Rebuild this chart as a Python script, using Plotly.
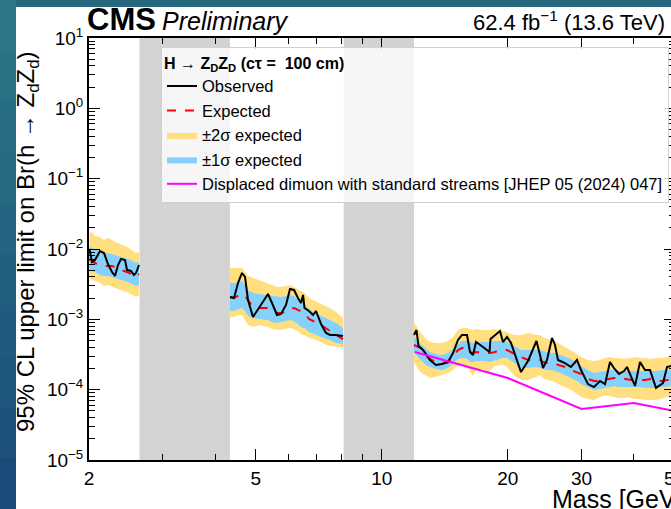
import plotly.graph_objects as go
import math

# ---------------- data ----------------
# segment 1 (2.0 - 2.63 GeV)
mass_a = [2.005, 2.033, 2.067, 2.125, 2.172, 2.220, 2.270, 2.307, 2.346, 2.385, 2.438, 2.465, 2.519, 2.561, 2.590, 2.633]
obs_a = [0.0100, 0.00653, 0.00698, 0.00937, 0.00877, 0.00612, 0.00471, 0.00413, 0.00592, 0.00721, 0.00698, 0.00503, 0.00487, 0.00427, 0.00456, 0.00592]
exp_a = [0.00721, 0.00675, 0.00632, 0.00592, 0.00573, 0.00573, 0.00573, 0.00555, 0.00519, 0.00503, 0.00487, 0.00471, 0.00441, 0.00413, 0.00400, 0.00441]
s1hi_a = [0.01068, 0.01033, 0.00968, 0.00905, 0.00877, 0.00877, 0.00849, 0.00822, 0.00795, 0.00769, 0.00745, 0.00721, 0.00698, 0.00653, 0.00632, 0.00653]
s1lo_a = [0.00503, 0.00487, 0.00471, 0.00427, 0.00413, 0.00413, 0.00400, 0.00387, 0.00374, 0.00362, 0.00351, 0.00340, 0.00318, 0.00308, 0.00298, 0.00308]
s2hi_a = [0.01689, 0.01745, 0.01531, 0.01482, 0.01343, 0.01434, 0.01343, 0.01258, 0.01217, 0.01178, 0.01104, 0.01068, 0.00968, 0.00905, 0.00877, 0.00905]
s2lo_a = [0.00387, 0.00362, 0.00351, 0.00329, 0.00298, 0.00308, 0.00288, 0.00279, 0.00270, 0.00261, 0.00245, 0.00245, 0.00229, 0.00215, 0.00208, 0.00222]

# segment 2 (4.34 - 8.1 GeV)
mass_b = [4.342, 4.439, 4.538, 4.639, 4.716, 4.794, 4.928, 5.093, 5.351, 5.470, 5.623, 5.748, 5.908, 6.039, 6.174, 6.311, 6.416, 6.487, 6.541, 6.704, 6.853, 6.967, 7.162, 7.361, 7.525, 7.777, 8.083]
obs_b = [0.002078, 0.002011, 0.003287, 0.004560, 0.004000, 0.001884, 0.001080, 0.001450, 0.002293, 0.001708, 0.001153, 0.001191, 0.001600, 0.002700, 0.002614, 0.002011, 0.001708, 0.002219, 0.001450, 0.001314, 0.001153, 0.001314, 0.000859, 0.000640, 0.000599, 0.000599, 0.000580]
exp_b = [0.002078, 0.002011, 0.002148, 0.002293, 0.002148, 0.001884, 0.001498, 0.001450, 0.001450, 0.001358, 0.001231, 0.001231, 0.001272, 0.001404, 0.001450, 0.001358, 0.001314, 0.001272, 0.001231, 0.001011, 0.000947, 0.000917, 0.000831, 0.000753, 0.000683, 0.000599, 0.000525]
s1hi_b = [0.003287, 0.003287, 0.003396, 0.003509, 0.003079, 0.002614, 0.002369, 0.002293, 0.002219, 0.002148, 0.002078, 0.002078, 0.002148, 0.002219, 0.002148, 0.001947, 0.001765, 0.001708, 0.001653, 0.001404, 0.001272, 0.001231, 0.001116, 0.001045, 0.000979, 0.000887, 0.000753]
s1lo_b = [0.001314, 0.001314, 0.001404, 0.001450, 0.001314, 0.001116, 0.001045, 0.001011, 0.000979, 0.000917, 0.000887, 0.000917, 0.000947, 0.000979, 0.000947, 0.000859, 0.000778, 0.000753, 0.000753, 0.000661, 0.000619, 0.000599, 0.000561, 0.000525, 0.000509, 0.000461, 0.000446]
s2hi_b = [0.005370, 0.005370, 0.005370, 0.005370, 0.004712, 0.004133, 0.003872, 0.003626, 0.003287, 0.003079, 0.002884, 0.002884, 0.002980, 0.003079, 0.002884, 0.002700, 0.002529, 0.002448, 0.002369, 0.002011, 0.001884, 0.001765, 0.001653, 0.001548, 0.001450, 0.001272, 0.001045]
s2lo_b = [0.001080, 0.001080, 0.001153, 0.001153, 0.000979, 0.000831, 0.000778, 0.000831, 0.000778, 0.000729, 0.000705, 0.000705, 0.000729, 0.000753, 0.000729, 0.000683, 0.000619, 0.000599, 0.000599, 0.000543, 0.000525, 0.000509, 0.000476, 0.000432, 0.000418, 0.000404, 0.000391]

# segment 3 (11.9 - 50 GeV)
mass_c = [11.94, 12.107, 12.241, 12.547, 12.755, 13.039, 13.477, 13.929, 14.396, 14.798,
          15.210, 15.548, 15.982, 16.247, 16.518, 16.793, 17.451, 18.085, 18.185, 18.640,
          19.160, 19.479, 19.912, 20.356, 20.922, 21.506, 22.350, 23.416, 23.872, 24.270,
          24.810, 25.500, 25.924, 26.356, 27.390, 28.310, 29.260, 29.910, 31.084, 32.126,
          33.204, 34.130, 35.080, 35.860, 36.860, 37.888, 38.518, 39.374, 40.250, 41.372,
          42.524, 43.710, 45.176, 46.952, 47.996, 49.062, 50.5]
obs_c = [0.000599, 0.000705, 0.000418, 0.000366, 0.000321, 0.000264, 0.000224, 0.000232, 0.000247, 0.000332,
         0.000509, 0.000599, 0.000599, 0.000343, 0.000311, 0.000476, 0.000404, 0.000343, 0.000525, 0.000599,
         0.000683, 0.000476, 0.000561, 0.000461, 0.000282, 0.000178, 0.000256, 0.000492, 0.000311, 0.000203,
         0.000264, 0.000543, 0.000432, 0.000264, 0.000239, 0.000210, 0.000264, 0.000190, 0.000120, 0.000109,
         0.000133, 0.000120, 0.000247, 0.000203, 0.000167, 0.000184, 0.000210, 0.000151, 0.000113, 0.000247,
         0.000190, 0.000190, 0.000106, 0.000124, 0.000210, 0.000217, 0.000217]
exp_c = [0.000432, 0.000418, 0.000404, 0.000379, 0.000301, 0.000273, 0.000247, 0.000239, 0.000247, 0.000301,
         0.000366, 0.000391, 0.000391, 0.000343, 0.000332, 0.000343, 0.000332, 0.000332, 0.000332, 0.000343,
         0.000366, 0.000366, 0.000366, 0.000343, 0.000311, 0.000291, 0.000264, 0.000264, 0.000264, 0.000247,
         0.000239, 0.000232, 0.000232, 0.000224, 0.000210, 0.000190, 0.000178, 0.000167, 0.000142, 0.000133,
         0.000133, 0.000137, 0.000142, 0.000147, 0.000147, 0.000142, 0.000142, 0.000137, 0.000137, 0.000137,
         0.000137, 0.000142, 0.000133, 0.000133, 0.000137, 0.000137, 0.000137]
s1hi_c = [0.000561, 0.000525, 0.000476, 0.000418, 0.000379, 0.000343, 0.000321, 0.000311, 0.000332, 0.000379,
          0.000446, 0.000492, 0.000492, 0.000476, 0.000461, 0.000476, 0.000476, 0.000476, 0.000476, 0.000492,
          0.000492, 0.000492, 0.000476, 0.000446, 0.000404, 0.000366, 0.000366, 0.000366, 0.000366, 0.000355,
          0.000343, 0.000332, 0.000332, 0.000321, 0.000291, 0.000273, 0.000239, 0.000217, 0.000190, 0.000173,
          0.000178, 0.000184, 0.000190, 0.000190, 0.000184, 0.000184, 0.000184, 0.000184, 0.000184, 0.000184,
          0.000184, 0.000184, 0.000184, 0.000190, 0.000190, 0.000190, 0.000190]
s1lo_c = [0.000332, 0.000311, 0.000282, 0.000247, 0.000224, 0.000210, 0.000197, 0.000190, 0.000203, 0.000232,
          0.000273, 0.000282, 0.000273, 0.000247, 0.000247, 0.000256, 0.000256, 0.000247, 0.000247, 0.000256,
          0.000273, 0.000282, 0.000282, 0.000256, 0.000232, 0.000203, 0.000203, 0.000210, 0.000203, 0.000197,
          0.000190, 0.000190, 0.000184, 0.000178, 0.000162, 0.000147, 0.000133, 0.000120, 0.000109, 0.0000989,
          0.000102, 0.000106, 0.000109, 0.000113, 0.000109, 0.000109, 0.000109, 0.000109, 0.000109, 0.000109,
          0.000106, 0.000106, 0.000106, 0.000109, 0.000109, 0.000113, 0.000113]
s2hi_c = [0.000887, 0.000804, 0.000705, 0.000580, 0.000525, 0.000476, 0.000461, 0.000461, 0.000492, 0.000561,
          0.000705, 0.000753, 0.000753, 0.000729, 0.000705, 0.000729, 0.000705, 0.000705, 0.000705, 0.000729,
          0.000705, 0.000683, 0.000661, 0.000619, 0.000599, 0.000599, 0.000640, 0.000599, 0.000599, 0.000561,
          0.000525, 0.000509, 0.000492, 0.000461, 0.000404, 0.000366, 0.000321, 0.000291, 0.000264, 0.000256,
          0.000264, 0.000282, 0.000291, 0.000282, 0.000282, 0.000273, 0.000282, 0.000282, 0.000291, 0.000282,
          0.000282, 0.000273, 0.000282, 0.000282, 0.000291, 0.000282, 0.000282]
s2lo_c = [0.000239, 0.000217, 0.000190, 0.000167, 0.000157, 0.000147, 0.000151, 0.000162, 0.000173, 0.000190,
          0.000224, 0.000224, 0.000217, 0.000178, 0.000157, 0.000190, 0.000197, 0.000178, 0.000190, 0.000217,
          0.000224, 0.000224, 0.000210, 0.000178, 0.000151, 0.000137, 0.000137, 0.000151, 0.000162, 0.000147,
          0.000137, 0.000133, 0.000129, 0.000120, 0.000109, 0.0000989, 0.0000868, 0.0000787, 0.0000737, 0.0000713,
          0.0000787, 0.0000840, 0.0000813, 0.0000787, 0.0000762, 0.0000762, 0.0000787, 0.0000762, 0.0000737, 0.0000737,
          0.0000713, 0.0000713, 0.0000713, 0.0000762, 0.0000787, 0.0000813, 0.0000813]

# Displaced dimuon with standard streams [JHEP 05 (2024) 047]
mass_ref = [12.0, 20.0, 30.0, 40.0, 50.0]
limit_ref = [3.43e-4, 1.466e-4, 5.31e-5, 6.46e-5, 4.97e-5]

# vetoed mass windows (grey)
veto_regions = [(2.64, 4.34), (8.11, 11.94)]

x_ticks = [2, 5, 10, 20, 30, 50]
x_minor = [3, 4, 6, 7, 8, 9, 40]

# ---------------- geometry helpers ----------------
# the page is 671 px wide; the figure is slightly wider so its right frame edge is cut off
W, H = 675, 509
ML, MR, MT, MB = 89, 0, 38, 49
PW, PH = W - ML - MR, H - MT - MB


def px_x(p):
    return (p - ML) / PW


def px_y(p):
    return (H - MB - p) / PH


FONT = "Liberation Sans, Arial, Helvetica, sans-serif"
YEL = "#FFDF7F"
BLU = "#85D1FB"

segments = [
    (mass_a, obs_a, exp_a, s1lo_a, s1hi_a, s2lo_a, s2hi_a),
    (mass_b, obs_b, exp_b, s1lo_b, s1hi_b, s2lo_b, s2hi_b),
    (mass_c, obs_c, exp_c, s1lo_c, s1hi_c, s2lo_c, s2hi_c),
]

fig = go.Figure()

for i, (m, o, e, l1, h1, l2, h2) in enumerate(segments):
    fig.add_trace(go.Scatter(
        x=m + m[::-1], y=h2 + l2[::-1], fill="toself", fillcolor=YEL,
        line=dict(width=0), mode="lines", name="±2σ expected",
        legendgroup="s2", showlegend=(i == 0), legendrank=3, hoverinfo="skip"))
for i, (m, o, e, l1, h1, l2, h2) in enumerate(segments):
    fig.add_trace(go.Scatter(
        x=m + m[::-1], y=h1 + l1[::-1], fill="toself", fillcolor=BLU,
        line=dict(width=0), mode="lines", name="±1σ expected",
        legendgroup="s1", showlegend=(i == 0), legendrank=4, hoverinfo="skip"))

xe, ye, xo, yo = [], [], [], []
for (m, o, e, l1, h1, l2, h2) in segments:
    xe += m + [None]
    ye += e + [None]
    xo += m + [None]
    yo += o + [None]

fig.add_trace(go.Scatter(x=xe, y=ye, mode="lines", name="Expected",
                         line=dict(color="red", width=2, dash="dash"), legendrank=2))
fig.add_trace(go.Scatter(x=xo, y=yo, mode="lines", name="Observed",
                         line=dict(color="black", width=2), legendrank=1))
fig.add_trace(go.Scatter(x=mass_ref, y=limit_ref, mode="lines",
                         name="Displaced dimuon with standard streams [JHEP 05 (2024) 047]",
                         line=dict(color="#FF00FF", width=2), legendrank=5))

# ---------------- background / shapes ----------------
shapes = []
# white figure canvas on the teal slide background
shapes.append(dict(type="rect", xref="paper", yref="paper", x0=px_x(16), x1=px_x(690),
                   y0=px_y(520), y1=px_y(7), fillcolor="white", line=dict(width=0), layer="below"))
# slide gradient on the left strip
top_c, bot_c = (44, 122, 136), (27, 74, 121)
nb = 10
for k in range(nb):
    t = (k + 0.5) / nb
    c = tuple(int(top_c[j] + (bot_c[j] - top_c[j]) * t) for j in range(3))
    shapes.append(dict(type="rect", xref="paper", yref="paper", x0=px_x(-2), x1=px_x(16),
                       y0=px_y(H * (k + 1) / nb + 1), y1=px_y(H * k / nb),
                       fillcolor="rgb(%d,%d,%d)" % c, line=dict(width=0), layer="below"))
for a, b in veto_regions:
    shapes.append(dict(type="rect", xref="x", yref="paper", x0=a, x1=b, y0=0, y1=1,
                       fillcolor="#d3d3d3", line=dict(width=0), layer="below"))

y_major = [10.0 ** k for k in range(-5, 2)]
y_text = ["10<sup>−5</sup>", "10<sup>−4</sup>", "10<sup>−3</sup>", "10<sup>−2</sup>",
          "10<sup>−1</sup>", "10<sup>0</sup>", "10<sup>1</sup>"]
y_minor = [j * 10.0 ** k for k in range(-5, 1) for j in range(2, 10)]

axis_common = dict(showline=True, linewidth=2, linecolor="black", mirror="ticks",
                   ticks="inside", ticklen=11, tickwidth=1.3, tickcolor="black",
                   showgrid=False, zeroline=False, ticklabeloverflow="allow", automargin=False,
                   tickfont=dict(family=FONT, size=19, color="black"))

fig.update_layout(
    width=W, height=H, autosize=False,
    margin=dict(l=ML, r=MR, t=MT, b=MB, pad=0, autoexpand=False),
    paper_bgcolor="#25687e", plot_bgcolor="white",
    shapes=shapes,
    xaxis=dict(type="log", range=[math.log10(2), math.log10(2) + PW / 418.8],
               tickmode="array", tickvals=x_ticks, ticktext=[str(v) for v in x_ticks],
               minor=dict(tickmode="array", tickvals=x_minor, ticks="inside", ticklen=6,
                          tickwidth=1, tickcolor="black", showgrid=False),
               **axis_common),
    yaxis=dict(type="log", range=[-5, 1], tickmode="array", tickvals=y_major, ticktext=y_text,
               minor=dict(tickmode="array", tickvals=y_minor, ticks="inside", ticklen=6,
                          tickwidth=1, tickcolor="black", showgrid=False),
               **axis_common),
    showlegend=True,
    legend=dict(x=px_x(161), y=px_y(47), xanchor="left", yanchor="top",
                bgcolor="rgba(255,255,255,0.8)", bordercolor="#d0d0d0", borderwidth=1,
                font=dict(family=FONT, size=16.5, color="black"),
                title=dict(text="<b>H → Z<sub>D</sub>Z<sub>D</sub> (cτ =  100 cm)</b>",
                           font=dict(family=FONT, size=16, color="black")),
                tracegroupgap=0, itemwidth=30, traceorder="normal"),
    annotations=[
        dict(text="<b>CMS</b>", x=px_x(85), y=px_y(20), xref="paper", yref="paper",
             xanchor="left", yanchor="middle", showarrow=False,
             font=dict(family=FONT, size=31, color="black")),
        dict(text="<i>Preliminary</i>", x=px_x(160), y=px_y(21), xref="paper", yref="paper",
             xanchor="left", yanchor="middle", showarrow=False,
             font=dict(family=FONT, size=25, color="black")),
        dict(text="62.4 fb<sup>−1</sup> (13.6 TeV)", x=px_x(667), y=px_y(21), xref="paper", yref="paper",
             xanchor="right", yanchor="middle", showarrow=False,
             font=dict(family=FONT, size=22, color="black")),
        dict(text="Mass [GeV]", x=px_x(685), y=px_y(499), xref="paper", yref="paper",
             xanchor="right", yanchor="middle", showarrow=False,
             font=dict(family=FONT, size=25, color="black")),
        dict(text="95% CL upper limit on Br(h → Z<sub>d</sub>Z<sub>d</sub>)", x=px_x(27), y=px_y(242),
             xref="paper", yref="paper", xanchor="center", yanchor="middle", textangle=-90,
             showarrow=False, font=dict(family=FONT, size=24, color="black")),
    ],
)

fig.write_html("out.html", config={"displayModeBar": False},
               post_script="document.body.style.margin='0px';document.body.style.overflow='hidden';"
                           "document.documentElement.style.overflow='hidden';")
